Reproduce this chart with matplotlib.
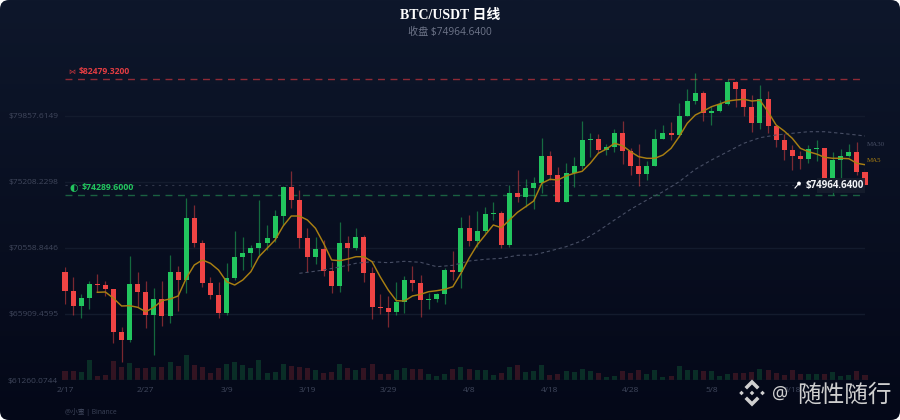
import numpy as np
import matplotlib
matplotlib.use("Agg")
import matplotlib.pyplot as plt
from matplotlib.patches import FancyBboxPatch, Polygon, Circle, Rectangle

# BTC/USDT daily candles
opens = [68889, 67508, 66473, 67015, 68022, 67973, 67649, 64662, 64056, 68001,
         67480, 65860, 66966, 65768, 68846, 68304, 72692, 70889, 68114, 67269,
         66001, 68424, 69945, 70185, 70537, 70931, 71241, 72812, 74876, 73918,
         71262, 69945, 70509, 68938, 67881, 70889, 70579, 71333, 68818, 66402,
         66353, 66029, 66775, 68304, 68093, 66916, 66966, 67318, 69030, 68868,
         71946, 71072, 71777, 72953, 73045, 70748, 74411, 74129, 74806, 75158,
         77060, 75700, 73820, 75820, 76334, 78166, 78257, 77440, 77651, 78659,
         77391, 76355, 75792, 76334, 78236, 78680, 78539, 79856, 80913, 81455,
         80046, 80208, 80701, 82230, 81758, 80511, 79342, 81075, 79131, 78166,
         77461, 77017, 76827, 77532, 77602, 75510, 76757, 77060, 77320, 75933]
closes = [67508, 66473, 67015, 68022, 67973, 67649, 64662, 64056, 68001, 67480,
          65860, 66966, 65768, 68846, 68304, 72692, 70889, 68114, 67269, 66001,
          68424, 69945, 70185, 70537, 70931, 71241, 72812, 74876, 73918, 71262,
          69945, 70509, 68938, 67881, 70889, 70579, 71333, 68818, 66402, 66353,
          66029, 66775, 68304, 68093, 66916, 66966, 67318, 69030, 68868, 71946,
          71072, 71777, 72953, 73045, 70748, 74411, 74129, 74806, 75158, 77060,
          75700, 73820, 75820, 76334, 78166, 78257, 77440, 77651, 78659, 77391,
          76355, 75792, 76334, 78236, 78680, 78539, 79856, 80913, 81455, 80046,
          80208, 80701, 82230, 81758, 80511, 79342, 81075, 79131, 78166, 77461,
          77017, 76827, 77532, 77602, 75510, 76757, 77060, 77320, 75933, 74964.64]
highs = [69241, 68494, 67297, 68255, 68706, 68234, 67649, 65014, 69995, 68868,
         68234, 67762, 68234, 70086, 69290, 74059, 73566, 71122, 68536, 68184,
         69523, 71756, 71312, 70769, 73939, 72178, 73235, 74900, 75982, 74644,
         71967, 71354, 71122, 69593, 72390, 71403, 71988, 71474, 69199, 67297,
         67177, 68184, 68586, 69290, 68656, 67367, 67367, 69128, 70347, 72763,
         72883, 73164, 73425, 73777, 73164, 74996, 76052, 75397, 75538, 78328,
         77412, 76243, 76567, 76947, 79504, 78638, 78588, 77884, 78940, 79504,
         77581, 77905, 76686, 78919, 79222, 79434, 80751, 81779, 82885, 81638,
         80561, 80983, 82441, 82343, 81758, 81314, 82040, 81638, 79222, 78588,
         77835, 77412, 77813, 78166, 77602, 77342, 77510, 77884, 78046, 76172]
lows = [66613, 65839, 65627, 66261, 67480, 67198, 63887, 62528, 63937, 66423,
        64923, 63021, 65064, 65275, 66120, 67409, 70650, 67790, 66945, 65627,
        65839, 68304, 69008, 69220, 69945, 70417, 70981, 72178, 73397, 70537,
        68889, 69410, 68607, 67367, 67480, 68959, 70417, 68184, 65578, 65909,
        65014, 65817, 66001, 67550, 65719, 66282, 66775, 66613, 68304, 67762,
        70720, 70650, 71615, 72530, 70537, 70607, 73820, 73467, 73326, 74453,
        75348, 73820, 73820, 74834, 76102, 76989, 77229, 77109, 77342, 76475,
        75679, 74947, 75348, 76355, 78215, 78166, 78398, 79856, 80701, 79525,
        79201, 80159, 80631, 80469, 79856, 78750, 78940, 78659, 77651, 76757,
        76052, 76123, 76524, 76708, 75510, 74291, 75489, 76947, 75700, 74943]
volumes = [9, 9, 8, 20, 4, 5, 19, 13, 17, 12,
           12, 13, 13, 18, 14, 25, 15, 13, 7, 12,
           16, 18, 15, 12, 20, 7, 8, 16, 14, 13,
           12, 10, 7, 8, 16, 12, 10, 12, 16, 6,
           6, 10, 12, 11, 11, 6, 4, 6, 11, 13,
           11, 10, 10, 5, 7, 13, 15, 8, 9, 15,
           5, 6, 9, 8, 11, 9, 7, 3, 4, 9,
           7, 10, 6, 10, 3, 4, 14, 10, 10, 9,
           9, 4, 6, 7, 7, 8, 11, 10, 7, 5,
           10, 6, 6, 6, 6, 8, 4, 5, 9, 5]

ma5_days = list(range(4, 100))
ma5 = [67438, 67459, 67015, 66473, 66494, 66381, 66071, 66381, 66846, 66966,
       67177, 68424, 69361, 69713, 69480, 69008, 68184, 67952, 68304, 68889,
       69945, 70537, 71122, 72108, 72812, 72812, 72530, 71946, 70889, 69713,
       69663, 69783, 69945, 69945, 69593, 68536, 67600, 66846, 66825, 67177,
       67297, 67480, 67550, 67649, 67832, 68776, 69833, 70769, 71474, 72178,
       71988, 72530, 73073, 73467, 73869, 75116, 75397, 75348, 75630, 75820,
       75961, 76524, 77229, 77532, 77933, 77764, 77342, 76989, 76877, 76877,
       77109, 77581, 78398, 79342, 79927, 80208, 80511, 80701, 80913, 80983,
       81033, 80913, 80962, 80159, 79222, 78800, 78285, 77581, 77342, 77179,
       76947, 76877, 76877, 76848, 76524, 76426]
ma30_days = [29, 30, 32, 34, 36, 38, 40, 42, 44, 46, 48, 50, 52, 54, 56, 58, 60, 62, 64,
             66, 68, 70, 72, 74, 76, 78, 80, 82, 84, 86, 88, 90, 92, 94, 96, 98, 99]
ma30 = [68776, 68846, 69008, 69220, 69480, 69593, 69523, 69621, 69551, 69241,
        69340, 69642, 69762, 69833, 70044, 70065, 70347, 70650, 71072, 71756,
        72530, 73284, 73939, 74524, 75228, 76102, 76757, 77342, 77933, 78328,
        78518, 78638, 78750, 78750, 78638, 78518, 78447]

date_ticks = [0, 10, 20, 30, 40, 50, 60, 70, 80, 90]
date_labels = ["2/17", "2/27", "3/9", "3/19", "3/29", "4/8", "4/18", "4/28", "5/8", "5/18"]
price_ticks = [61260.0744, 65909.4595, 70558.8446, 75208.2298, 79857.6149]
resistance = 82479.32
support = 74289.60
last_price = 74964.64

GREEN = "#22c55e"
RED = "#ef4444"
CJK = ["Open Sans", "Noto Sans CJK SC"]
SERIF = ["Liberation Serif", "Noto Sans CJK SC"]

fig = plt.figure(figsize=(9, 4.2), dpi=100, facecolor="white")

# card background, pixel coordinates
bg = fig.add_axes([0, 0, 1, 1], zorder=0)
bg.set_xlim(0, 900)
bg.set_ylim(420, 0)
bg.axis("off")
grad = np.linspace(0, 1, 256)[:, None, None]
top_col = np.array([14, 23, 43]) / 255
bot_col = np.array([4, 8, 24]) / 255
img = bg.imshow(top_col + (bot_col - top_col) * grad, extent=[0, 900, 420, 0], aspect="auto")
card = FancyBboxPatch((8, 8), 884, 404, boxstyle="round,pad=8,rounding_size=9",
                      transform=bg.transData, fc="none", ec="none")
bg.add_patch(card)
img.set_clip_path(card)
bg.set_xlim(0, 900)
bg.set_ylim(420, 0)

# price chart: x 65..865, y 60..380 px
ax = fig.add_axes([65 / 900, 40 / 420, 800 / 900, 320 / 420], zorder=2)
ax.patch.set_alpha(0)
for s in ax.spines.values():
    s.set_visible(False)
ax.set_xlim(0, 99)
ax.set_ylim(61260.0744, 83801)
ax.set_yticks(price_ticks, [f"${p:.4f}" for p in price_ticks], family=CJK, fontsize=6, color="#40475c")
ax.set_xticks(date_ticks, date_labels, family=CJK, fontsize=6, color="#40475c")
ax.tick_params(length=0)
ax.tick_params(axis="y", pad=5)
ax.tick_params(axis="x", pad=5)
ax.grid(axis="y", color="#131b2d", lw=1)
ax.set_axisbelow(True)

days = np.arange(len(closes))
opens = np.array(opens)
closes = np.array(closes)
colors = [GREEN if c >= o else RED for o, c in zip(opens, closes)]

# volumes sit on their own scale, 1 unit = 1 px
vol_ax = ax.twinx()
vol_ax.set_ylim(0, 320)
vol_ax.axis("off")
vol_ax.set_zorder(1)
ax.set_zorder(2)
vol_ax.bar(days, volumes, width=0.62, color=colors, alpha=0.2, lw=0, clip_on=False)

ax.axhline(resistance, color="#8f2a36", lw=1, dashes=(5, 4), xmax=0.995)
ax.axhline(support, color="#1a6141", lw=1, dashes=(5, 4), xmax=0.995)
ax.axhline(last_price, color="#2f3649", lw=0.8, dashes=(2, 4))

ax.vlines(days, lows, highs, colors=colors, lw=0.9, alpha=0.5, zorder=3)
bodies = np.abs(closes - opens)
ax.bar(days, np.maximum(bodies, 60), bottom=np.minimum(opens, closes), width=0.62,
       color=colors, lw=0, zorder=4, clip_on=False)
ax.plot(ma30_days, ma30, color="#474e64", lw=0.8, dashes=(3, 2.5), zorder=5)
ax.plot(ma5_days, ma5, color="#a97f12", lw=1.05, zorder=5)

# everything else placed by pixel
top = fig.add_axes([0, 0, 1, 1], zorder=3)
top.set_xlim(0, 900)
top.set_ylim(420, 0)
top.axis("off")
top.patch.set_alpha(0)

top.text(450, 15, "BTC/USDT 日线", family=SERIF, fontsize=10, fontweight="bold", color="white",
         ha="center", va="center")
top.text(450, 32.5, "收盘 $74964.6400", family=CJK, fontsize=7.3, color="#6f768a", ha="center", va="center")

top.text(72, 71.5, "⋈", family="DejaVu Sans", fontsize=5, color="#c9343c", ha="center", va="center")
top.text(79, 71.5, "$82479.3200", family=CJK, fontsize=6.2, fontweight="bold", color="#e03c42", va="center")
top.text(73.5, 188, "◐", family="DejaVu Sans", fontsize=7, color=GREEN, ha="center", va="center")
top.text(81.5, 188, "$74289.6000", family=CJK, fontsize=6.3, fontweight="bold", color=GREEN, va="center")

top.add_patch(Rectangle((817, 178), 48, 14.5, fc="#161d2d", ec="none", alpha=0.9))
top.text(863.5, 185.3, "$74964.6400", family=CJK, fontsize=7, fontweight="bold", color="#f1f3f6",
         ha="right", va="center")
top.plot([795, 798.5], [188, 184], color="white", lw=0.8)
top.add_patch(Circle((799, 183.5), 1.9, fc="white", ec="none"))

top.text(867, 144.5, "MA30", family="Liberation Serif", fontsize=5, color="#474e64", va="center")
top.text(867, 161, "MA5", family="Liberation Serif", fontsize=5, color="#a97f12", va="center")

top.text(65, 412.5, "@小蜜 | Binance", family=CJK, fontsize=4.9, color="#3c4358", va="center")

# watermark
WM = "#cfcfcf"
cx, cy = 752, 393
for dx, dy, r in [(-10.5, 0, 2.3), (10.5, 0, 2.3), (0, 0, 2.3)]:
    top.add_patch(Polygon([(cx + dx - r, cy + dy), (cx + dx, cy + dy - r), (cx + dx + r, cy + dy),
                           (cx + dx, cy + dy + r)], fc=WM, ec="none"))
for sign in (-1, 1):
    top.add_patch(Polygon([(cx, cy + sign * 13.5), (cx + 7.5, cy + sign * 6), (cx + 5, cy + sign * 3.5),
                           (cx, cy + sign * 8.5), (cx - 5, cy + sign * 3.5), (cx - 7.5, cy + sign * 6)],
                          fc=WM, ec="none"))
top.text(780, 394, "@", family="Noto Sans", fontsize=13, color=WM, ha="center", va="center")
top.text(797, 395, "随性随行", family="Noto Sans CJK SC", fontsize=17, color=WM, va="center")

fig.savefig("out.png", dpi=100, facecolor="white")
